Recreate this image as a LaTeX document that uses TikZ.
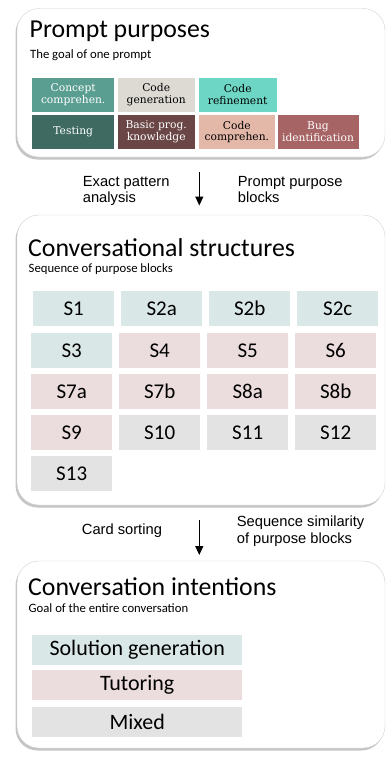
\documentclass[tikz,border=0pt]{standalone}
\usepackage{fontspec}
\setmainfont{Carlito}
\newfontfamily\arialf{Liberation Sans}
\newfontfamily\serifbox{DejaVu Serif}
\usetikzlibrary{shadows,arrows.meta}
\definecolor{pA}{HTML}{5A9E92}
\definecolor{pB}{HTML}{DDDAD4}
\definecolor{pC}{HTML}{6DD6C4}
\definecolor{pD}{HTML}{3E6A62}
\definecolor{pE}{HTML}{6A4646}
\definecolor{pF}{HTML}{E4B8A9}
\definecolor{pG}{HTML}{A66464}
\definecolor{cT}{HTML}{DAE7E7}
\definecolor{cP}{HTML}{EBDCDD}
\definecolor{cG}{HTML}{E3E3E3}
\tikzset{
  panel/.style={draw=gray!35, line width=0.4pt, fill=white, rounded corners=22pt,
    drop shadow={shadow xshift=-1.5pt, shadow yshift=-2.5pt, opacity=0.6, fill=gray!75}},
  pbox/.style={anchor=north west, inner sep=0pt, minimum height=34pt, align=center,
    font=\serifbox\fontsize{10.7}{11.5}\selectfont, text=black},
  sbox/.style={anchor=north west, inner sep=0pt, minimum width=81pt, minimum height=35pt,
    font=\fontsize{21}{22}\selectfont},
  ibox/.style={anchor=north west, inner sep=0pt, minimum width=210pt, minimum height=30pt,
    font=\fontsize{22}{23}\selectfont},
  ttl/.style={anchor=base west, inner sep=0pt, font=\fontsize{25.8}{28}\selectfont},
  sub/.style={anchor=base west, inner sep=0pt, font=\fontsize{12.7}{14}\selectfont},
  alab/.style={anchor=base west, inner sep=0pt, font=\arialf\fontsize{14.7}{16}\selectfont},
  flow/.style={line width=1.3pt, -{Triangle[length=9pt,width=8pt]}}
}
\begin{document}
\begin{tikzpicture}[x=1pt,y=-1pt]
\useasboundingbox (0,0) rectangle (387,758);
% panel 1
\path[panel] (17,8.5) rectangle (385,157);
\node[ttl] (t1) at (29.5,37.7) {Prompt purposes};
\node[sub] (s1) at (30,58) {The goal of one prompt};
\node[pbox, fill=pA, text=white, minimum width=82pt] (p1) at (32,77.3) {Concept\\comprehen.};
\node[pbox, fill=pB, minimum width=77.4pt] (p2) at (117.3,77.3) {Code\\generation};
\node[pbox, fill=pC, minimum width=78.4pt] (p3) at (198.3,77.3) {Code\\refinement};
\node[pbox, fill=pD, text=white, minimum width=82pt] (p4) at (32,114.7) {Testing};
\node[pbox, fill=pE, text=white, minimum width=77.4pt] (p5) at (117.3,114.7) {Basic prog.\\knowledge};
\node[pbox, fill=pF, minimum width=76.7pt] (p6) at (198.3,114.7) {Code\\comprehen.};
\node[pbox, fill=pG, text=white, minimum width=81pt] (p7) at (277.3,114.7) {Bug\\identification};
% arrow 1
\coordinate (a1s) at (199.3,171.7);
\coordinate (a1e) at (199.3,205.5);
\draw[flow] (a1s) -- (a1e);
\node[alab] (l1a) at (82.7,186) {Exact pattern};
\node[alab] (l1b) at (82.7,202.7) {analysis};
\node[alab] (r1a) at (237.7,186) {Prompt purpose};
\node[alab] (r1b) at (237.7,202.7) {blocks};
% panel 2
\path[panel] (17,215) rectangle (385,505);
\node[ttl] (t2) at (28,256) {Conversational structures};
\node[sub] (s2) at (28.5,272) {Sequence of purpose blocks};
\foreach \lab/\c/\i in {S1/cT/0,S2a/cT/1,S2b/cT/2,S2c/cT/3}{
  \node[sbox, fill=\c] (\lab) at ({33+88*\i},291) {\lab};
}
\foreach \lab/\c/\i/\j in {
  S3/cT/0/1,S4/cP/1/1,S5/cP/2/1,S6/cP/3/1,
  S7a/cP/0/2,S7b/cP/1/2,S8a/cP/2/2,S8b/cP/3/2,
  S9/cP/0/3,S10/cG/1/3,S11/cG/2/3,S12/cG/3/3,S13/cG/0/4}{
  \node[sbox, fill=\c] (\lab) at ({31+88*\i},{291.8+41*\j}) {\lab};
}
% arrow 2
\coordinate (a2s) at (199.3,519.7);
\coordinate (a2e) at (199.3,555);
\draw[flow] (a2s) -- (a2e);
\node[alab] (l2) at (81.7,534.7) {Card sorting};
\node[alab] (r2a) at (236.7,526.3) {Sequence similarity};
\node[alab] (r2b) at (236.7,543) {of purpose blocks};
% panel 3
\path[panel] (17,561) rectangle (385,748);
\node[ttl] (t3) at (28,595) {Conversation intentions};
\node[sub] (s3) at (28.5,612) {Goal of the entire conversation};
\node[ibox, fill=cT] (i1) at (32,635) {Solution generation};
\node[ibox, fill=cP] (i2) at (32,670) {Tutoring};
\node[ibox, fill=cG] (i3) at (32,707) {Mixed};
\end{tikzpicture}
\end{document}
